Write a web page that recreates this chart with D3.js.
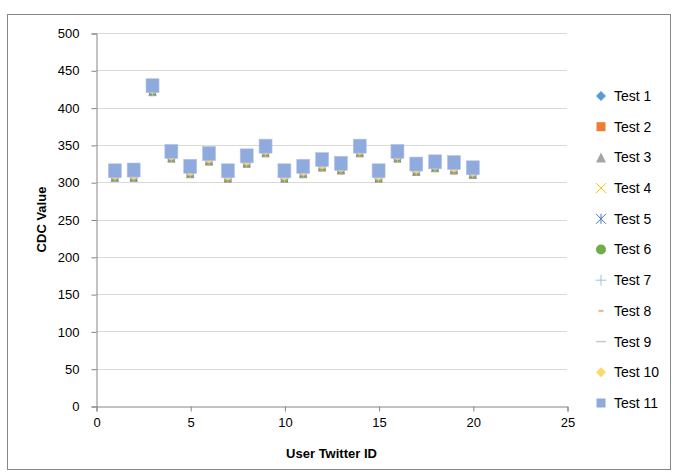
<!DOCTYPE html>
<html>
<head>
<meta charset="utf-8">
<script src="https://cdn.jsdelivr.net/npm/d3@7"></script>
<style>
  body { margin: 0; background: #fff; }
  svg { display: block; font-family: "Liberation Sans", Arial, sans-serif; }
</style>
</head>
<body>
<svg id="chart" width="674" height="474"></svg>
<script>
// User IDs on the x axis
const userIds = [1, 2, 3, 4, 5, 6, 7, 8, 9, 10, 11, 12, 13, 14, 15, 16, 17, 18, 19, 20];

// CDC value per user for each test run
const test1  = [306, 306, 421, 332, 311, 328, 305, 325, 339, 305, 311, 320, 316, 339, 305, 332, 314, 319, 316, 310];
const test2  = [305, 305, 420, 331, 310, 327, 304, 324, 338, 304, 310, 319, 315, 338, 304, 331, 313, 318, 315, 309];
const test3  = [306, 306, 421, 332, 311, 328, 305, 325, 339, 305, 311, 320, 316, 339, 305, 332, 314, 319, 316, 310];
const test4  = [307, 307, 422, 333, 312, 329, 306, 326, 340, 306, 312, 321, 317, 340, 306, 333, 315, 320, 317, 311];
const test5  = [306, 306, 421, 332, 311, 328, 305, 325, 339, 305, 311, 320, 316, 339, 305, 332, 314, 319, 316, 310];
const test6  = [307, 307, 422, 333, 312, 329, 306, 326, 340, 306, 312, 321, 317, 340, 306, 333, 315, 320, 317, 311];
const test7  = [306, 306, 421, 332, 311, 328, 305, 325, 339, 305, 311, 320, 316, 339, 305, 332, 314, 319, 316, 310];
const test8  = [305, 305, 420, 331, 310, 327, 304, 324, 338, 304, 310, 319, 315, 338, 304, 331, 313, 318, 315, 309];
const test9  = [306, 306, 421, 332, 311, 328, 305, 325, 339, 305, 311, 320, 316, 339, 305, 332, 314, 319, 316, 310];
const test10 = [309, 309, 424, 335, 314, 331, 308, 328, 342, 308, 314, 323, 319, 342, 308, 335, 317, 322, 319, 313];
const test11 = [316, 317, 430, 342, 322, 339, 316, 336, 349, 316, 322, 331, 326, 349, 316, 342, 325, 328, 327, 320];

const seriesNames = ["Test 1", "Test 2", "Test 3", "Test 4", "Test 5", "Test 6",
                     "Test 7", "Test 8", "Test 9", "Test 10", "Test 11"];
const seriesValues = [test1, test2, test3, test4, test5, test6, test7, test8, test9, test10, test11];

const xTicks = [0, 5, 10, 15, 20, 25];
const yTicks = [0, 50, 100, 150, 200, 250, 300, 350, 400, 450, 500];

// Marker style for each series: shape, colour, size in the plot and in the legend
const markerStyles = [
  { shape: "diamond",  color: "#5b9bd5", size: 8,  legendSize: 10 },
  { shape: "square",   color: "#ed7d31", size: 7,  legendSize: 9 },
  { shape: "triangle", color: "#a5a5a5", size: 8,  legendSize: 10 },
  { shape: "x",        color: "#ffc000", size: 7,  legendSize: 10 },
  { shape: "star",     color: "#4472c4", size: 7,  legendSize: 10 },
  { shape: "circle",   color: "#70ad47", size: 8,  legendSize: 10 },
  { shape: "plus",     color: "#9dc3e6", size: 8,  legendSize: 11 },
  { shape: "dash",     color: "#f4b183", size: 5,  legendSize: 5 },
  { shape: "longdash", color: "#c9c9c9", size: 8,  legendSize: 10 },
  { shape: "diamond",  color: "#ffd966", size: 8,  legendSize: 10 },
  { shape: "square",   color: "#8faadc", size: 13, legendSize: 9 }
];

const svg = d3.select("#chart");

// Chart frame
svg.append("rect")
  .attr("x", 7.5).attr("y", 14.5)
  .attr("width", 663).attr("height", 455)
  .attr("fill", "#fff").attr("stroke", "#868686").attr("stroke-width", 1);

const plot = { left: 96, right: 567, top: 33, bottom: 406 };

const x = d3.scaleLinear().domain([0, 25]).range([plot.left, plot.right]);
const y = d3.scaleLinear().domain([0, 500]).range([plot.bottom, plot.top]);

// Horizontal gridlines
svg.append("g")
  .selectAll("line")
  .data(yTicks.filter(d => d > 0))
  .join("line")
  .attr("x1", plot.left).attr("x2", plot.right)
  .attr("y1", d => Math.round(y(d)) + 0.5).attr("y2", d => Math.round(y(d)) + 0.5)
  .attr("stroke", "#d9d9d9").attr("stroke-width", 1);

// Y axis
const yAxis = svg.append("g")
  .attr("transform", `translate(${plot.left + 0.5},0.5)`)
  .call(d3.axisLeft(y).tickValues(yTicks).tickSize(5).tickPadding(12));
yAxis.select(".domain").attr("stroke", "#868686");
yAxis.selectAll(".tick line").attr("stroke", "#868686");
yAxis.selectAll(".tick text")
  .attr("font-size", 13).attr("fill", "#000")
  .attr("font-family", "'Liberation Sans', Arial, sans-serif");

// X axis
const xAxis = svg.append("g")
  .attr("transform", `translate(0.5,${plot.bottom + 0.5})`)
  .call(d3.axisBottom(x).tickValues(xTicks).tickSize(5).tickPadding(6));
xAxis.select(".domain").attr("stroke", "#868686");
xAxis.selectAll(".tick line").attr("stroke", "#868686");
xAxis.selectAll(".tick text")
  .attr("font-size", 13).attr("fill", "#000")
  .attr("font-family", "'Liberation Sans', Arial, sans-serif");

// Axis titles
svg.append("text")
  .attr("x", (plot.left + plot.right) / 2).attr("y", 458)
  .attr("text-anchor", "middle")
  .attr("font-size", 13).attr("font-weight", "bold")
  .text("User Twitter ID");

svg.append("text")
  .attr("transform", `translate(46,${(plot.top + plot.bottom) / 2}) rotate(-90)`)
  .attr("text-anchor", "middle")
  .attr("font-size", 13).attr("font-weight", "bold")
  .text("CDC Value");

// Draw one marker of the given size into a group centred at (0,0)
function drawMarker(g, style, s) {
  const h = s / 2, c = style.color;
  switch (style.shape) {
    case "diamond":
      g.append("path").attr("d", `M0,${-h}L${h},0L0,${h}L${-h},0Z`).attr("fill", c);
      break;
    case "square":
      g.append("rect").attr("x", -h).attr("y", -h).attr("width", s).attr("height", s + (s > 10 ? 1 : 0))
        .attr("fill", c).attr("stroke", s > 10 ? "#b4c4ea" : "none").attr("stroke-width", 0.6);
      break;
    case "triangle":
      g.append("path").attr("d", `M0,${-h}L${h},${h}L${-h},${h}Z`).attr("fill", c);
      break;
    case "circle":
      g.append("circle").attr("r", h).attr("fill", c);
      break;
    case "x":
      g.append("path").attr("d", `M${-h},${-h}L${h},${h}M${h},${-h}L${-h},${h}`)
        .attr("stroke", c).attr("stroke-width", 1).attr("fill", "none");
      break;
    case "star":
      g.append("path").attr("d", `M${-h},${-h}L${h},${h}M${h},${-h}L${-h},${h}M0,${-h}L0,${h}`)
        .attr("stroke", c).attr("stroke-width", 1).attr("fill", "none");
      break;
    case "plus":
      g.append("path").attr("d", `M${-h},0L${h},0M0,${-h}L0,${h}`)
        .attr("stroke", c).attr("stroke-width", 1).attr("fill", "none");
      break;
    case "dash":
      g.append("rect").attr("x", -h).attr("y", -1).attr("width", s).attr("height", 2).attr("fill", c);
      break;
    case "longdash":
      g.append("rect").attr("x", -h).attr("y", -0.75).attr("width", s).attr("height", 1.5).attr("fill", c);
      break;
  }
}

// Scatter series, drawn in order so the last series sits on top
seriesValues.forEach((vals, i) => {
  const layer = svg.append("g").attr("class", "series");
  layer.selectAll("g")
    .data(userIds.map((id, j) => ({ id, v: vals[j] })))
    .join("g")
    .attr("transform", d => `translate(${x(d.id)},${y(d.v)})`)
    .each(function () { drawMarker(d3.select(this), markerStyles[i], markerStyles[i].size); });
});

// Legend
const legend = svg.append("g");
seriesNames.forEach((name, i) => {
  const ly = 96 + i * 30.7;
  const item = legend.append("g").attr("transform", `translate(601,${ly})`);
  drawMarker(item, markerStyles[i], markerStyles[i].legendSize);
  item.append("text")
    .attr("x", 13).attr("y", 0).attr("dy", "0.35em")
    .attr("font-size", 14).attr("fill", "#000")
    .text(name);
});
</script>
</body>
</html>
